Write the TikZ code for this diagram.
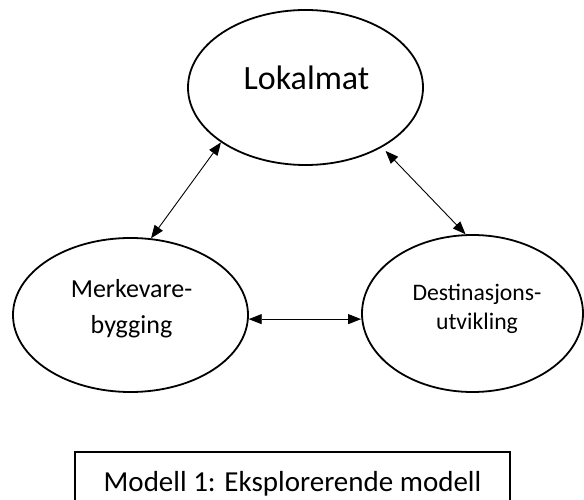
\documentclass[tikz,border=0pt]{standalone}
\usepackage{fontspec}
\setmainfont{Carlito}
\usetikzlibrary{shapes.geometric,arrows.meta}

\begin{document}
\begin{tikzpicture}[x=1pt,y=1pt,
  bubble/.style={ellipse,draw,line width=1.8pt,inner sep=0pt},
  link/.style={{Triangle[length=13pt,width=10pt]}-{Triangle[length=13pt,width=10pt]},line width=0.9pt}]
\useasboundingbox (0,0) rectangle (584,499);
\clip (0,0) rectangle (584,499);
% the three ellipses
\node[bubble,minimum width=235pt,minimum height=155pt] (lok) at (305.5,411.5) {};
\node[bubble,minimum width=235pt,minimum height=154pt] (merke) at (130.5,184) {};
\node[bubble,minimum width=221pt,minimum height=157pt] (dest) at (472.5,185.5) {};
\node[font=\fontsize{34}{40}\selectfont,anchor=base] (lokTxt) at (306.5,409) {Lokalmat};
\node[font=\fontsize{26}{36.3}\selectfont,align=center] (merkeTxt) at (131.5,190) {Merkevare-\\bygging};
\node[font=\fontsize{23.7}{29.3}\selectfont,align=center] (destTxt) at (477,190.5) {Destinasjons-\\utvikling};
% arrows between them
\draw[link] (merke.75) -- (lok.213.7);
\draw[link,shorten >=5pt] (dest.95.5) -- (lok.322.4);
\draw[link] (merke.358) -- (merke.358 -| dest.west);
% caption
\node[draw,line width=1.8pt,minimum width=435pt,minimum height=63pt,
  font=\fontsize{29}{35}\selectfont] (caption) at (292.5,15.5) {Modell 1: Eksplorerende modell};
\end{tikzpicture}
\end{document}
